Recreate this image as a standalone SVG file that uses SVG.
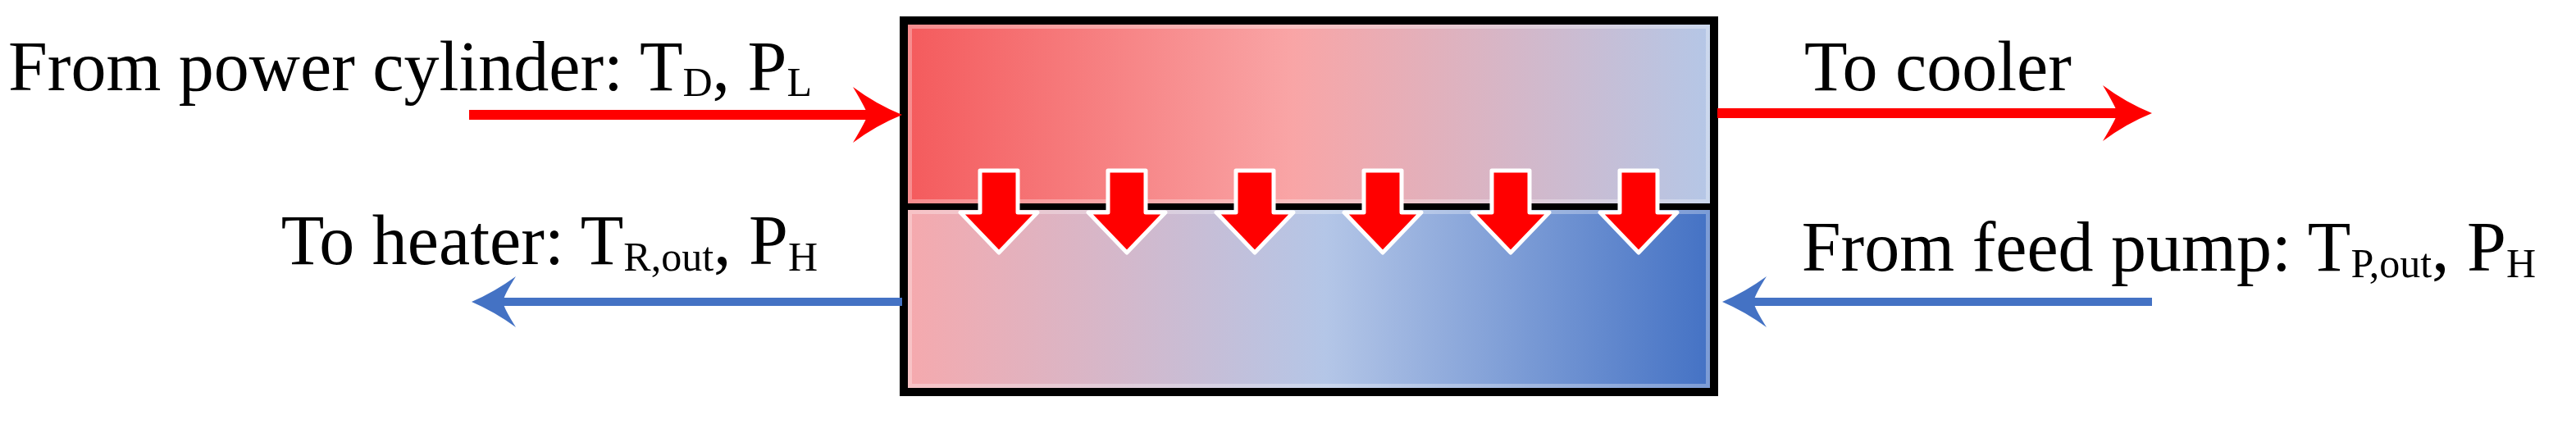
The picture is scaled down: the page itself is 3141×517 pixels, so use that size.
<svg xmlns="http://www.w3.org/2000/svg" width="3141" height="517" viewBox="0 0 3141 517">
  <style>
    .lbl { font-family: "Liberation Serif", "Times New Roman", serif; font-size: 86px; fill: #000; }
    .sub { font-size: 50px; }
    .red { stroke: #FF0000; stroke-width: 12; fill: none; }
    .blue { stroke: #4472C4; stroke-width: 10; fill: none; }
    .heat { fill: #FF0000; stroke: #FFFFFF; stroke-width: 5; stroke-linejoin: round; }
    .frame { fill: none; stroke: #000; stroke-width: 10; }
    .glow { fill: none; stroke: #FFFFFF; stroke-opacity: 0.3; stroke-width: 10; }
  </style>
  <defs>
    <linearGradient id="gTop" x1="0" y1="0" x2="1" y2="0">
      <stop offset="0" stop-color="#F45A5C"/>
      <stop offset="0.48" stop-color="#F9A5A6"/>
      <stop offset="1" stop-color="#B4C7E7"/>
    </linearGradient>
    <linearGradient id="gBot" x1="0" y1="0" x2="1" y2="0">
      <stop offset="0" stop-color="#F6A9AD"/>
      <stop offset="0.52" stop-color="#B4C6E7"/>
      <stop offset="1" stop-color="#4371C4"/>
    </linearGradient>
    <marker id="headRed" markerUnits="userSpaceOnUse" orient="auto" refX="-42" refY="0" markerWidth="80" markerHeight="80" overflow="visible">
      <path d="M0,0 Q-32,-13 -60,-34 Q-45,-9 -42,0 Q-45,9 -60,34 Q-32,13 0,0 Z" fill="#FF0000"/>
    </marker>
    <marker id="headBlue" markerUnits="userSpaceOnUse" orient="auto" refX="-38" refY="0" markerWidth="80" markerHeight="80" overflow="visible">
      <path d="M0,0 Q-28,-12 -54,-31 Q-40,-9 -38,0 Q-40,9 -54,31 Q-28,12 0,0 Z" fill="#4472C4"/>
    </marker>
  </defs>

  <rect width="3141" height="517" fill="#FFFFFF"/>

  <g id="regenerator">
    <rect x="1102" y="25" width="988" height="227" fill="url(#gTop)"/>
    <rect x="1102" y="252" width="988" height="226" fill="url(#gBot)"/>
    <rect x="1107" y="30" width="978" height="218" class="glow"/>
    <rect x="1107" y="256" width="978" height="217" class="glow"/>
    <rect x="1102" y="25" width="988" height="453" class="frame"/>
    <line x1="1102" y1="252" x2="2090" y2="252" stroke="#000" stroke-width="8"/>
  </g>

  <g id="heat-transfer">
    <path class="heat" d="M1195,208 H1241 V259 H1265 L1218,308 L1171,259 H1195 Z"/>
    <path class="heat" d="M1351,208 H1397 V259 H1421 L1374,308 L1327,259 H1351 Z"/>
    <path class="heat" d="M1507,208 H1553 V259 H1577 L1530,308 L1483,259 H1507 Z"/>
    <path class="heat" d="M1663,208 H1709 V259 H1733 L1686,308 L1639,259 H1663 Z"/>
    <path class="heat" d="M1819,208 H1865 V259 H1889 L1842,308 L1795,259 H1819 Z"/>
    <path class="heat" d="M1975,208 H2021 V259 H2045 L1998,308 L1951,259 H1975 Z"/>
  </g>

  <g id="connectors">
    <line class="red" x1="572" y1="140" x2="1058" y2="140" marker-end="url(#headRed)"/>
    <line class="blue" x1="1100" y1="368" x2="613" y2="368" marker-end="url(#headBlue)"/>
    <line class="red" x1="2094" y1="138" x2="2582" y2="138" marker-end="url(#headRed)"/>
    <line class="blue" x1="2624" y1="368" x2="2138" y2="368" marker-end="url(#headBlue)"/>
  </g>

  <g id="label-power-cylinder">
    <text class="lbl" x="10" y="110">From power cylinder: T<tspan class="sub" dy="7">D</tspan><tspan dy="-7">, P</tspan><tspan class="sub" dy="7">L</tspan></text>
  </g>
  <g id="label-heater">
    <text class="lbl" x="997" y="322" text-anchor="end">To heater: T<tspan class="sub" dy="8">R,out</tspan><tspan dy="-8">, P</tspan><tspan class="sub" dy="8">H</tspan></text>
  </g>
  <g id="label-cooler">
    <text class="lbl" x="2200" y="110">To cooler</text>
  </g>
  <g id="label-feed-pump">
    <text class="lbl" x="3092" y="330" text-anchor="end">From feed pump: T<tspan class="sub" dy="8">P,out</tspan><tspan dy="-8">, P</tspan><tspan class="sub" dy="8">H</tspan></text>
  </g>
</svg>
